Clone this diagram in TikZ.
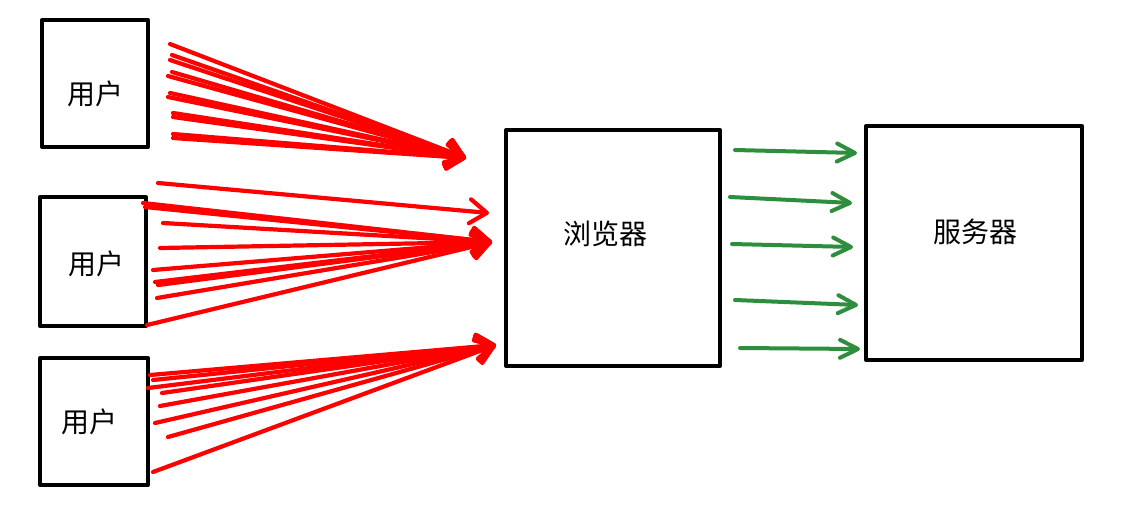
\documentclass[tikz,border=0pt]{standalone}
\usepackage{fontspec}
\newfontfamily\cjk{Noto Sans CJK SC}
\usetikzlibrary{arrows.meta}
\definecolor{grn}{RGB}{47,142,62}
\definecolor{rd}{RGB}{255,0,0}
\begin{document}
\begin{tikzpicture}[x=1pt,y=-1pt,
  box/.style={draw=black,line width=4pt,rectangle,inner sep=0pt,line join=round},
  lbl/.style={font=\cjk\fontsize{28}{32}\selectfont,inner sep=0pt},
  redarr/.style={draw=rd,line width=4.2pt,line cap=round,line join=round,
    -{Straight Barb[length=17pt,width=24pt,line cap=round,line join=round]}},
  grnarr/.style={draw=grn,line width=4pt,line cap=round,line join=round,
    -{Straight Barb[length=18pt,width=18pt,line cap=round,line join=round]}}]
\useasboundingbox (0,0) rectangle (1121,517);
\fill[white] (0,0) rectangle (1121,517);

% boxes
\node[box,minimum width=106pt,minimum height=127pt] (u1) at (95,83.5) {};
\node[box,minimum width=106pt,minimum height=129pt] (u2) at (93,261.5) {};
\node[box,minimum width=108pt,minimum height=127pt] (u3) at (94,421.5) {};
\node[box,minimum width=214pt,minimum height=236pt] (br) at (613,248) {};
\node[box,minimum width=216pt,minimum height=234pt] (sv) at (974,243) {};

% labels
\node[lbl] (l1) at (95,94) {用户};
\node[lbl] (l2) at (96,264) {用户};
\node[lbl] (l3) at (89.5,422) {用户};
\node[lbl] (lb) at (605,234) {浏览器};
\node[lbl] (ls) at (975,232) {服务器};

% targets
\coordinate (t1) at (466,158);
\coordinate (t2a) at (489,213);
\coordinate (t2) at (492,242);
\coordinate (t3) at (496,345);

% group 1
\foreach \i/\x/\y in {1/170/44,2/172/55,3/170/60,4/172/72,5/168/76,6/170/93,7/168/97,8/173/113,9/173/117,10/173/134,11/173/138}{
  \coordinate (a\i) at (\x,\y);
  \draw[redarr] (a\i) -- (t1);
}
% group 2
\coordinate (b0) at (158,183);
\draw[redarr] (b0) -- (t2a);
\foreach \i/\x/\y in {1/143/203,2/145/207,3/163/223,4/160/248,5/153/270,6/155/282,7/158/285,8/157/298,9/147/325}{
  \coordinate (b\i) at (\x,\y);
  \draw[redarr] (b\i) -- (t2);
}
% group 3
\foreach \i/\x/\y in {1/150/375,2/153/380,3/148/388,4/162/393,5/160/406,6/155/423,7/168/437,8/153/472}{
  \coordinate (c\i) at (\x,\y);
  \draw[redarr] (c\i) -- (t3);
}

% green arrows
\foreach \i/\xa/\ya/\xb/\yb in {1/735/150/857/153,2/730/197/852/203,3/732/244/853/247,4/735/300/858/305,5/740/348/860/349}{
  \coordinate (g\i s) at (\xa,\ya);
  \coordinate (g\i e) at (\xb,\yb);
  \draw[grnarr] (g\i s) -- (g\i e);
}
\end{tikzpicture}
\end{document}
